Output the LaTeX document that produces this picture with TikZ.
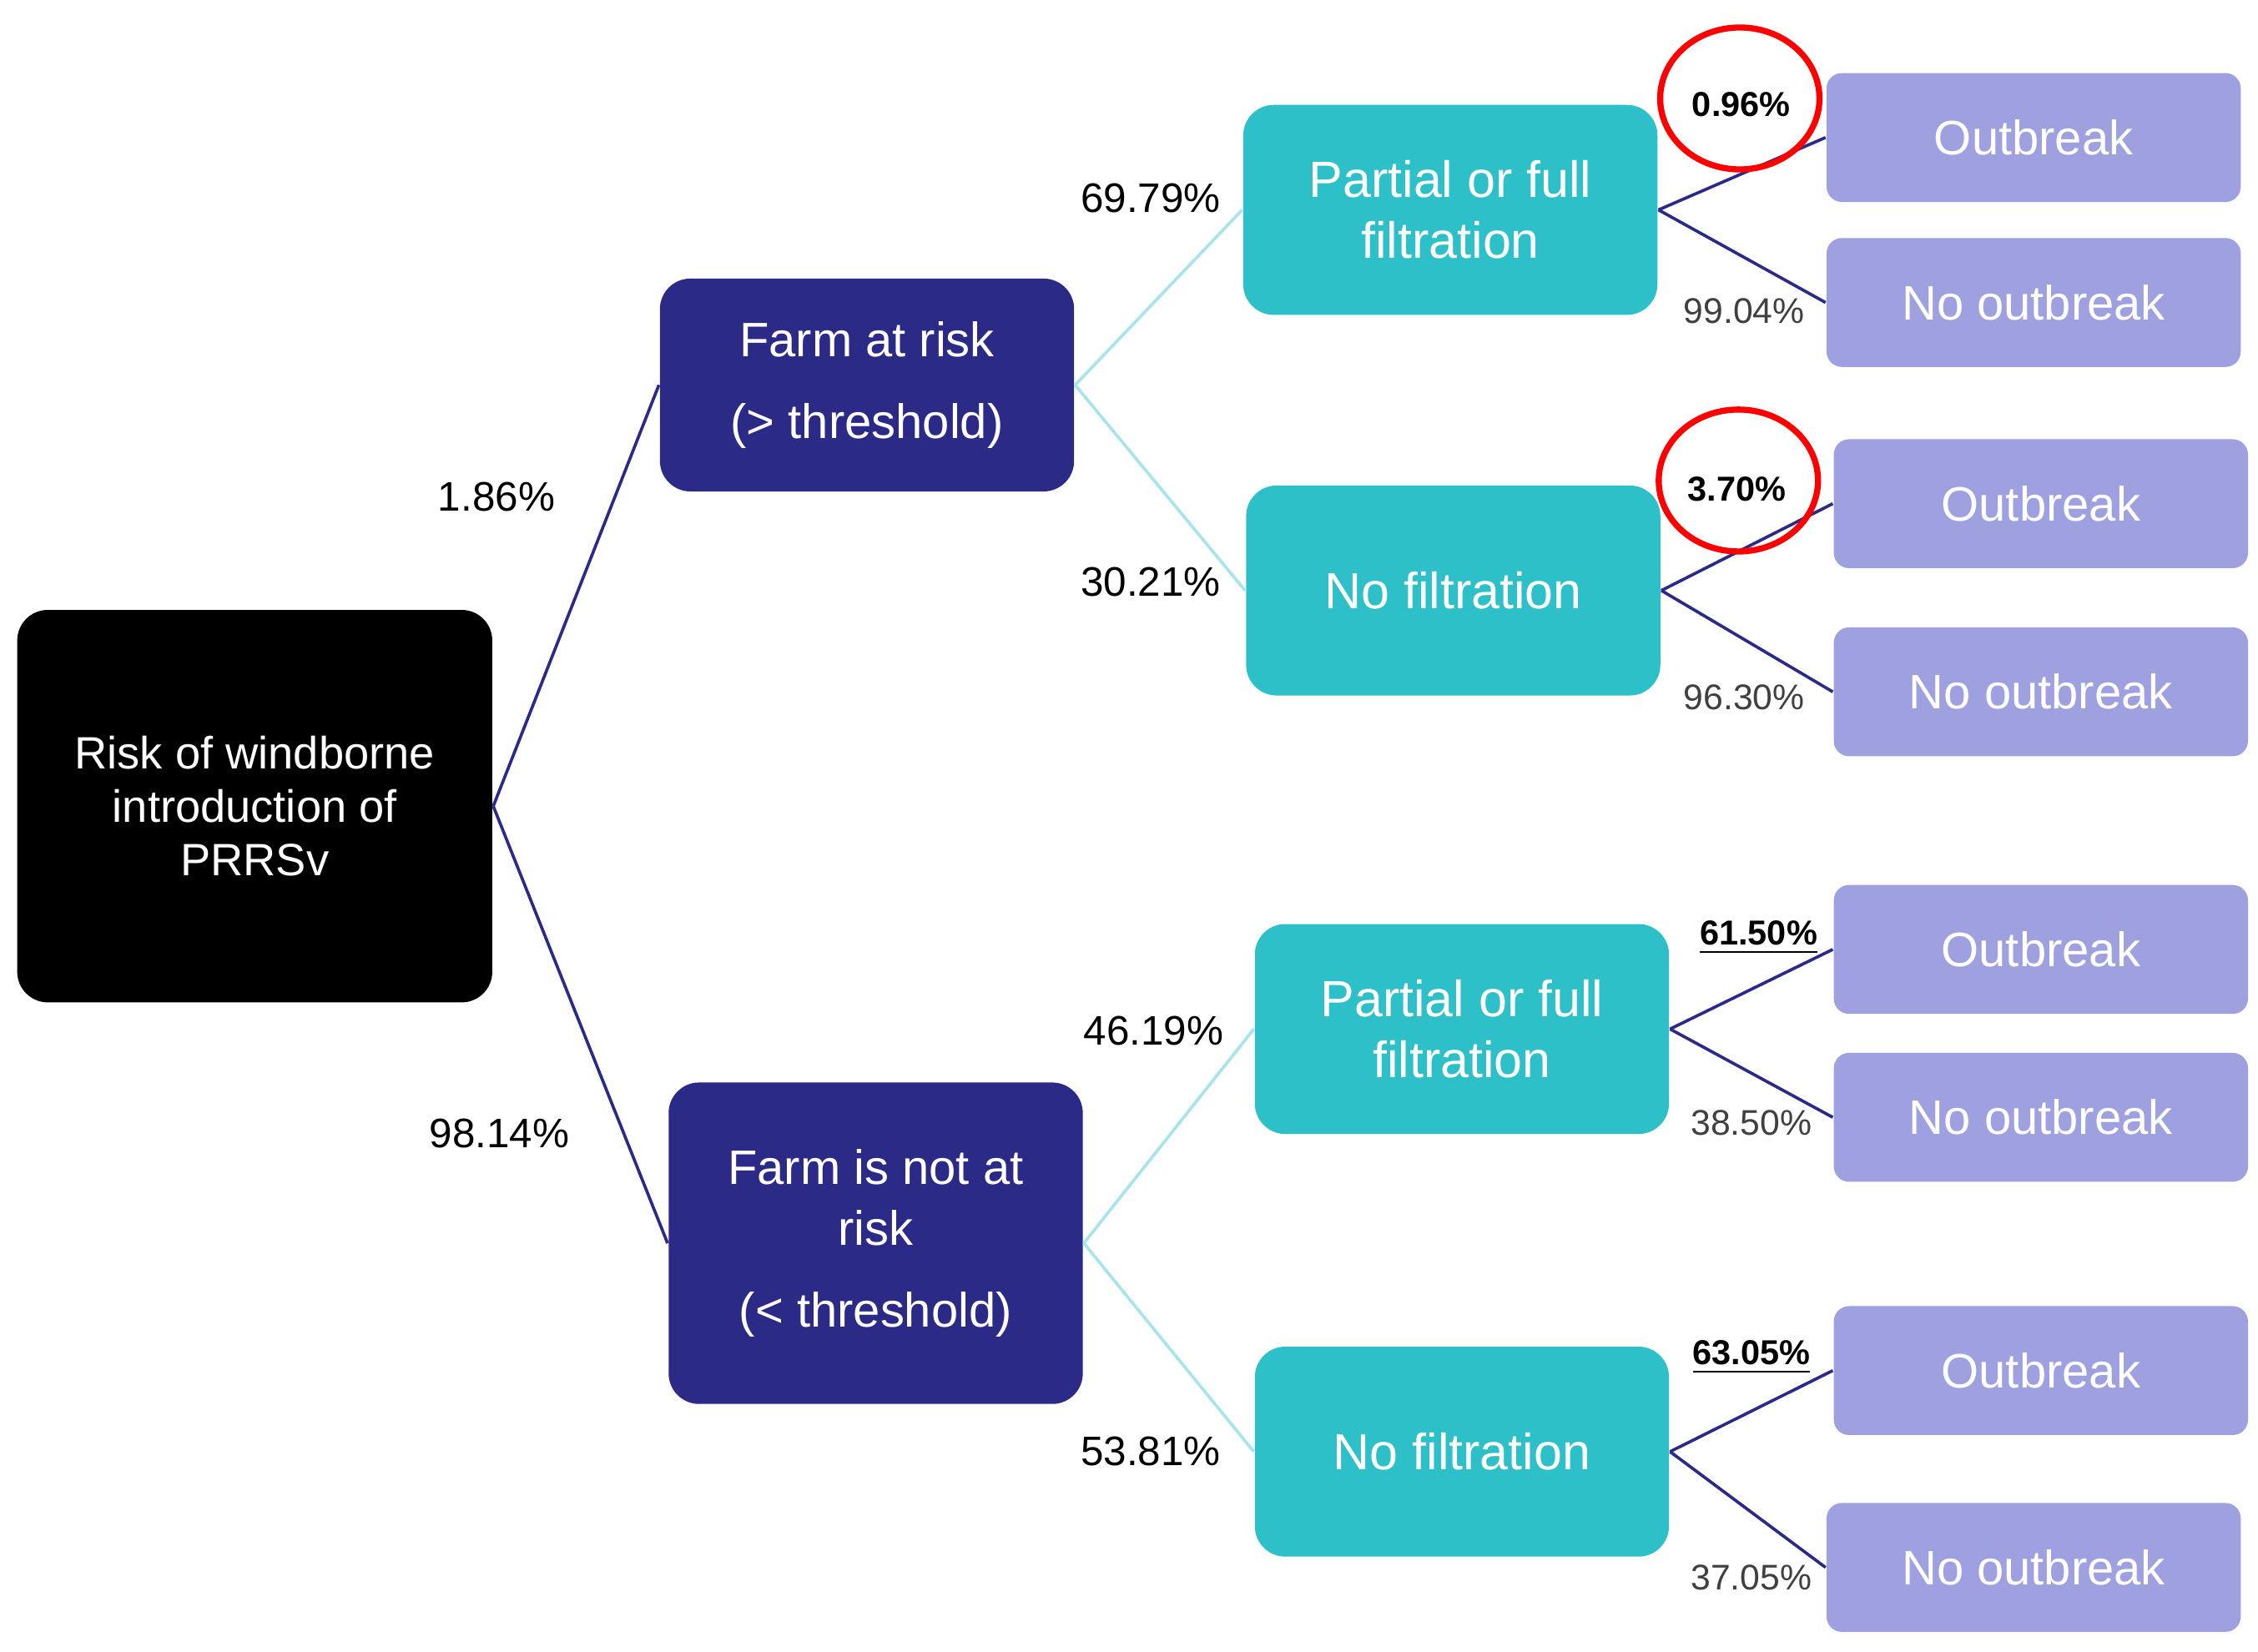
\documentclass[tikz,border=0pt]{standalone}
\usepackage{fontspec}
\setmainfont{Liberation Sans}
\usetikzlibrary{shapes.geometric}
\definecolor{navy}{HTML}{2B2A87}
\definecolor{teal2}{HTML}{2EC0C8}
\definecolor{lav}{HTML}{9FA0E0}
\definecolor{cyanl}{HTML}{A8E4EA}
\begin{document}
\begin{tikzpicture}[x=0.01cm,y=-0.01cm,
 box/.style={rounded corners=6pt,inner sep=0pt,align=center,text=white,font=\fontsize{9.5}{12}\selectfont},
 root/.style={box,fill=black,minimum width=3.28cm,minimum height=2.71cm,font=\fontsize{8.9}{10.5}\selectfont},
 l1/.style={box,fill=navy,minimum width=2.86cm},
 l2/.style={box,fill=teal2,minimum width=2.86cm,minimum height=1.45cm,font=\fontsize{10}{12}\selectfont},
 leaf/.style={box,fill=lav,rounded corners=3pt,minimum width=2.86cm,minimum height=0.89cm},
 pct/.style={font=\fontsize{8.1}{10}\selectfont},
 spct/.style={font=\fontsize{7}{9}\selectfont,text=black!75},
 bpct/.style={font=\bfseries\fontsize{6.8}{9}\selectfont},
 c1/.style={navy,line width=0.6pt},
 c2/.style={cyanl,line width=0.6pt}]
\useasboundingbox (0,0) rectangle (1560,1141);
\node[root] (r) at (176,557) {Risk of windborne\\introduction of\\PRRSv};
\node[l1,minimum height=1.47cm] (a) at (599,266) {Farm at risk\\[4pt](> threshold)};
\node[l1,minimum height=2.22cm] (b) at (605,859) {Farm is not at\\risk\\[4pt](< threshold)};
\node[l2] (a1) at (1002,145) {Partial or full\\filtration};
\node[l2] (a2) at (1004,408) {No filtration};
\node[l2] (b1) at (1010,711) {Partial or full\\filtration};
\node[l2] (b2) at (1010,1003) {No filtration};
\node[leaf] (o1) at (1405,95) {Outbreak};
\node[leaf] (n1) at (1405,209) {No outbreak};
\node[leaf] (o2) at (1410,348) {Outbreak};
\node[leaf] (n2) at (1410,478) {No outbreak};
\node[leaf] (o3) at (1410,656) {Outbreak};
\node[leaf] (n3) at (1410,772) {No outbreak};
\node[leaf] (o4) at (1410,947) {Outbreak};
\node[leaf] (n4) at (1405,1083) {No outbreak};
\draw[c1] (r.east) -- (a.west); \draw[c1] (r.east) -- (b.west);
\draw[c2] (a.east) -- (a1.west); \draw[c2] (a.east) -- (a2.west);
\draw[c2] (b.east) -- (b1.west); \draw[c2] (b.east) -- (b2.west);
\foreach \p/\q in {a1/o1,a1/n1,a2/o2,a2/n2,b1/o3,b1/n3,b2/o4,b2/n4}
  \draw[c1] (\p.east) -- (\q.west);
\node[pct] (p1) at (343,343) {1.86\%};
\node[pct] (p2) at (345,783) {98.14\%};
\node[pct] (p3) at (795,137) {69.79\%};
\node[pct] (p4) at (795,402) {30.21\%};
\node[pct] (p5) at (797,712) {46.19\%};
\node[pct] (p6) at (795,1003) {53.81\%};
\node[bpct] (q1) at (1203,72) {0.96\%};
\node[spct] (q2) at (1205,215) {99.04\%};
\node[bpct] (q3) at (1200,338) {3.70\%};
\node[spct] (q4) at (1205,482) {96.30\%};
\node[bpct] (q5) at (1215,648) {\underline{61.50\%}};
\node[spct] (q6) at (1210,776) {38.50\%};
\node[bpct] (q7) at (1210,938) {\underline{63.05\%}};
\node[spct] (q8) at (1210,1090) {37.05\%};
\node[ellipse,draw=red,line width=1.2pt,minimum width=1.1cm,minimum height=0.98cm] (e1) at (1202,68) {};
\node[ellipse,draw=red,line width=1.2pt,minimum width=1.1cm,minimum height=0.98cm] (e2) at (1201,332) {};
\end{tikzpicture}
\end{document}
